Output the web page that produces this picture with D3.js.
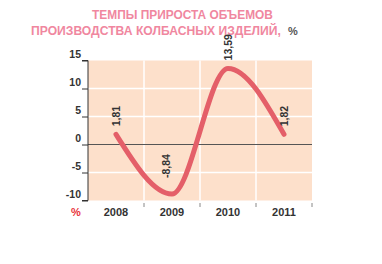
<!DOCTYPE html>
<html><head><meta charset="utf-8">
<script src="https://cdn.jsdelivr.net/npm/d3@7"></script>
<style>
html,body{margin:0;padding:0;background:#fff;}
svg{display:block;}
text{font-family:"Liberation Sans Narrow","Arial Narrow","Liberation Sans",sans-serif;}
</style></head>
<body><svg id="c" width="382" height="264"></svg>
<script>
const years = ["2008","2009","2010","2011"];
const values = [1.81, -8.84, 13.59, 1.82];
const valueLabels = ["1,81","-8,84","13,59","1,82"];
const yTicks = [15, 10, 5, 0, -5, -10];
const titleLines = ["ТЕМПЫ ПРИРОСТА ОБЪЕМОВ", "ПРОИЗВОДСТВА КОЛБАСНЫХ ИЗДЕЛИЙ,"];

const svg = d3.select("#c");
const x = d3.scaleBand().domain(years).range([88, 312]);
const y = d3.scaleLinear().domain([-10, 15]).range([200.5, 60.5]);

// title: fit each line to its width by font size
function fitTitle(txt, x0, yb, width) {
  const t = svg.append("text").attr("x", x0).attr("y", yb).attr("fill", "#f0879f")
    .attr("font-size", 13.5).attr("font-weight", "bold").text(txt);
  const w = t.node().getComputedTextLength();
  t.attr("font-size", (13.5 * width / w).toFixed(2));
  return t;
}
fitTitle(titleLines[0], 92, 18.5, 181);
fitTitle(titleLines[1], 31, 34.5, 250);
svg.append("text").attr("x", 288).attr("y", 34.5).attr("fill", "#555")
  .attr("font-size", 11).attr("font-weight", "bold").text("%");

// background
svg.append("rect").attr("x", x.range()[0]).attr("y", y(15))
  .attr("width", x.range()[1] - x.range()[0]).attr("height", y(-10) - y(15))
  .attr("fill", "#fde0cb");

// white grid
svg.selectAll(".hg").data(yTicks.filter(d => d !== 0 && d !== 15 && d !== -10)).join("line")
  .attr("x1", 88).attr("x2", 312).attr("y1", d => y(d)).attr("y2", d => y(d))
  .attr("stroke", "#fff").attr("stroke-width", 1.5);
svg.selectAll(".vg").data(years.slice(1)).join("line")
  .attr("x1", d => x(d)).attr("x2", d => x(d)).attr("y1", y(15)).attr("y2", y(-10))
  .attr("stroke", "#fff").attr("stroke-width", 1.5);

// zero line
svg.append("line").attr("x1", 88).attr("x2", 312).attr("y1", y(0)).attr("y2", y(0))
  .attr("stroke", "#555").attr("stroke-width", 1);

// y axis
const yAxis = svg.append("g").attr("transform", "translate(88,0)")
  .call(d3.axisLeft(y).tickValues(yTicks).tickSize(6).tickFormat(d => String(d)));
yAxis.select(".domain").attr("stroke", "#333").attr("d", `M-6,${y(15)}H0V${y(-10)}H-6`);
yAxis.selectAll(".tick line").attr("stroke", "#333");
yAxis.selectAll(".tick text").attr("x", -7).attr("dy", "-0.25em")
  .attr("font-size", 10.5).attr("font-weight", "bold").attr("fill", "#333")
  .attr("font-family", "'Liberation Sans Narrow','Arial Narrow',sans-serif");

// x ticks and labels
svg.selectAll(".xt").data(years.slice(1).map(d => x(d)).concat([x.range()[1]])).join("line")
  .attr("x1", d => d).attr("x2", d => d).attr("y1", 203).attr("y2", 207)
  .attr("stroke", "#888").attr("stroke-width", 1);
svg.selectAll(".xl").data(years).join("text")
  .attr("x", d => x(d) + x.bandwidth() / 2).attr("y", 216)
  .attr("text-anchor", "middle").attr("font-size", 11).attr("font-weight", "bold")
  .attr("fill", "#333").text(d => d);
svg.append("text").attr("x", 76).attr("y", 216).attr("text-anchor", "middle")
  .attr("font-size", 11).attr("font-weight", "bold").attr("fill", "#e8333a").text("%");

// line
const pts = years.map((yr, i) => [x(yr) + x.bandwidth() / 2, y(values[i])]);
svg.append("path").datum(pts)
  .attr("d", d3.line().curve(d3.curveMonotoneX))
  .attr("fill", "none").attr("stroke", "#e45f69").attr("stroke-width", 5)
  .attr("stroke-linecap", "round");

// value labels
svg.selectAll(".vl").data(values).join("text")
  .attr("transform", (v, i) => {
    const px = pts[i][0] + (v < 0 ? -6 : 0) + 3.5;
    const py = pts[i][1] - (v < 0 ? 16 : 8);
    return `translate(${px},${py}) rotate(-90)`;
  })
  .attr("font-size", 10.5).attr("font-weight", "bold").attr("fill", "#333")
  .text((v, i) => valueLabels[i]);
</script></body></html>
